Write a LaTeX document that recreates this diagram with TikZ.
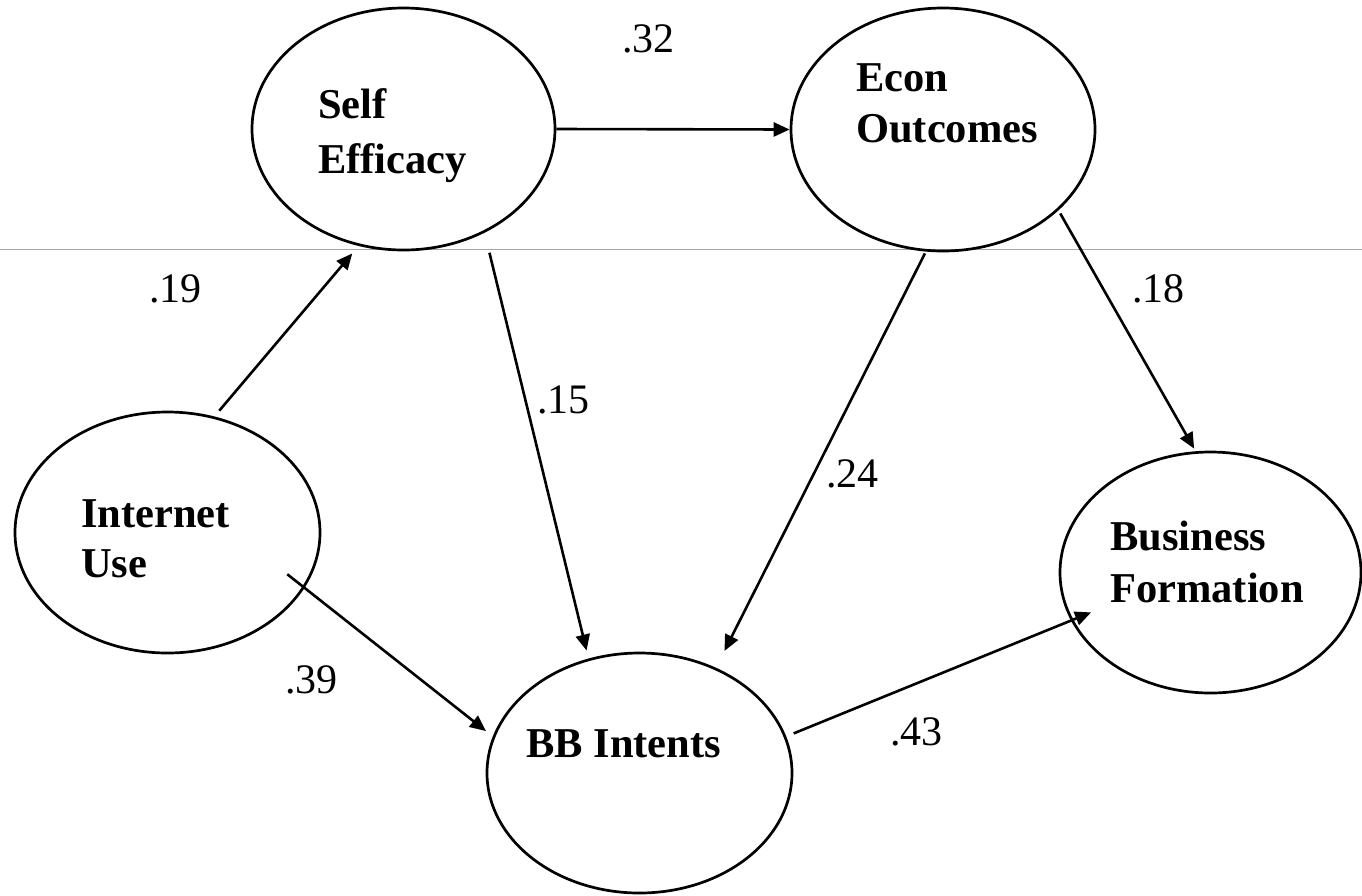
\documentclass[tikz,border=0pt]{standalone}
\usepackage{fontspec}
\setmainfont{Liberation Serif}
\usetikzlibrary{shapes.geometric,arrows.meta}
\begin{document}
\begin{tikzpicture}[x=1pt,y=-1pt,
  latent/.style={draw, ellipse, line width=2.7pt, inner sep=0pt},
  lbl/.style={anchor=base west, inner sep=0pt, font=\fontsize{42.5}{52}\selectfont\bfseries},
  coef/.style={anchor=base west, inner sep=0pt, font=\fontsize{42}{52}\selectfont},
  effect/.style={line width=2.6pt, -{Triangle[length=16pt,width=14pt]}}]
\useasboundingbox (0,0) rectangle (1362,895);
\draw[line width=1.6pt, color={rgb,255:red,160;green,168;blue,176}] (0,249.5) -- (1362,249.5);
% latent variables
\node[latent, minimum width=303pt, minimum height=242pt] (se) at (403.5,129) {};
\node[latent, minimum width=304pt, minimum height=243pt] (eo) at (943,129.5) {};
\node[latent, minimum width=305pt, minimum height=241pt] (iu) at (167.5,532.5) {};
\node[latent, minimum width=305pt, minimum height=240pt] (bb) at (639.5,773) {};
\node[latent, minimum width=301pt, minimum height=241pt] (bf) at (1210.5,572.5) {};
% labels
\node[lbl] (seT1) at (318,118) {Self};
\node[lbl] (seT2) at (318,173) {Efficacy};
\node[lbl] (eoT1) at (856,91) {Econ};
\node[lbl] (eoT2) at (856,142) {Outcomes};
\node[lbl] (iuT1) at (81,527) {Internet};
\node[lbl] (iuT2) at (81,577) {Use};
\node[lbl] (bbT) at (526,757) {BB Intents};
\node[lbl] (bfT1) at (1110,550) {Business};
\node[lbl] (bfT2) at (1110,602) {Formation};
% paths
\draw[effect] (se.east) -- (eo.west);
\draw[effect, shorten <=7.5pt, shorten >=9.8pt] (iu.68) -- (se.249);
\draw[effect, shorten <=20.6pt, shorten >=8.2pt] (se.308) -- (bb.114);
\draw[effect, shorten <=2pt, shorten >=18.8pt] (eo.262) -- (bb.54);
\draw[effect, shorten <=3.6pt, shorten >=3pt] (eo.325) -- (bf.97);
\draw[effect, shorten <=-22pt, shorten >=8.7pt] (iu.338) -- (bb.166);
\draw[effect, shorten <=8.1pt, shorten >=-21.7pt] (bb.14) -- (bf.199);
% coefficients
\node[coef] (c32) at (622,52) {.32};
\node[coef] (c19) at (149,302) {.19};
\node[coef] (c15) at (537,413) {.15};
\node[coef] (c24) at (826,487) {.24};
\node[coef] (c18) at (1132,302) {.18};
\node[coef] (c39) at (285,693) {.39};
\node[coef] (c43) at (890,745) {.43};
\end{tikzpicture}
\end{document}
